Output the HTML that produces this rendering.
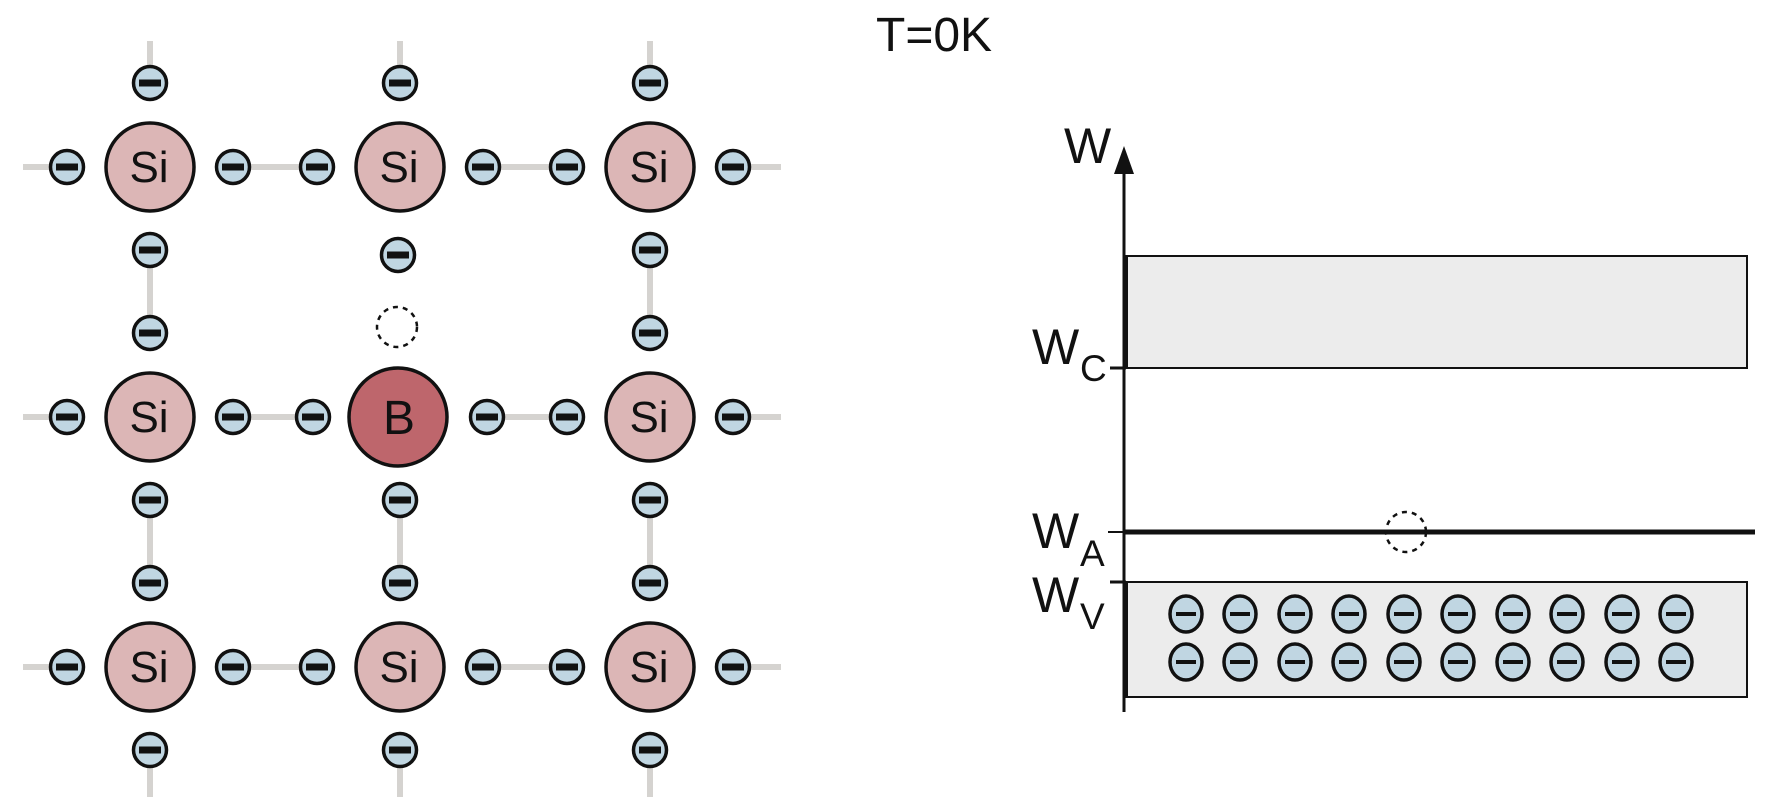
<!DOCTYPE html>
<html><head><meta charset="utf-8"><style>
html,body{margin:0;padding:0;background:#fff;}
svg{display:block;}
text{font-family:"Liberation Sans",sans-serif;fill:#111;}
</style></head><body>
<svg width="1792" height="808" viewBox="0 0 1792 808" xmlns="http://www.w3.org/2000/svg">
<defs>
<g id="e"><circle r="16.5" fill="#c0d6e2" stroke="#111" stroke-width="3.5"/><rect x="-11" y="-3.5" width="22" height="7" fill="#111"/></g>
<g id="ve"><ellipse rx="16" ry="18" fill="#c0d6e2" stroke="#111" stroke-width="3.5"/><rect x="-10" y="-2" width="20" height="4" fill="#111"/></g>
</defs>
<g stroke="#d5d3d0" stroke-width="6">
<line x1="23" y1="167" x2="67" y2="167"/><line x1="233" y1="167" x2="317" y2="167"/><line x1="483" y1="167" x2="567" y2="167"/><line x1="733" y1="167" x2="781" y2="167"/>
<line x1="23" y1="417" x2="67" y2="417"/><line x1="233" y1="417" x2="317" y2="417"/><line x1="483" y1="417" x2="567" y2="417"/><line x1="733" y1="417" x2="781" y2="417"/>
<line x1="23" y1="667" x2="67" y2="667"/><line x1="233" y1="667" x2="317" y2="667"/><line x1="483" y1="667" x2="567" y2="667"/><line x1="733" y1="667" x2="781" y2="667"/>
<line x1="150" y1="41" x2="150" y2="83"/><line x1="400" y1="41" x2="400" y2="83"/><line x1="650" y1="41" x2="650" y2="83"/>
<line x1="150" y1="250" x2="150" y2="333"/><line x1="650" y1="250" x2="650" y2="333"/>
<line x1="150" y1="500" x2="150" y2="583"/><line x1="400" y1="500" x2="400" y2="583"/><line x1="650" y1="500" x2="650" y2="583"/>
<line x1="150" y1="750" x2="150" y2="797"/><line x1="400" y1="750" x2="400" y2="797"/><line x1="650" y1="750" x2="650" y2="797"/>
</g>
<g stroke="#111" stroke-width="3.5">
<circle cx="150" cy="167" r="44" fill="#dcb6b6"/><circle cx="400" cy="167" r="44" fill="#dcb6b6"/><circle cx="650" cy="167" r="44" fill="#dcb6b6"/>
<circle cx="150" cy="417" r="44" fill="#dcb6b6"/><circle cx="398" cy="417" r="49" fill="#be666c"/><circle cx="650" cy="417" r="44" fill="#dcb6b6"/>
<circle cx="150" cy="667" r="44" fill="#dcb6b6"/><circle cx="400" cy="667" r="44" fill="#dcb6b6"/><circle cx="650" cy="667" r="44" fill="#dcb6b6"/>
</g>
<g font-size="44" text-anchor="middle">
<text x="149" y="182">Si</text><text x="399" y="182">Si</text><text x="649" y="182">Si</text>
<text x="149" y="432">Si</text><text x="399" y="434" font-size="48">B</text><text x="649" y="432">Si</text>
<text x="149" y="682">Si</text><text x="399" y="682">Si</text><text x="649" y="682">Si</text>
</g>
<g>
<use href="#e" x="150" y="83"/><use href="#e" x="400" y="83"/><use href="#e" x="650" y="83"/>
<use href="#e" x="67" y="167"/><use href="#e" x="233" y="167"/><use href="#e" x="317" y="167"/><use href="#e" x="483" y="167"/><use href="#e" x="567" y="167"/><use href="#e" x="733" y="167"/>
<use href="#e" x="150" y="250"/><use href="#e" x="398" y="255"/><use href="#e" x="650" y="250"/>
<use href="#e" x="150" y="333"/><use href="#e" x="650" y="333"/>
<use href="#e" x="67" y="417"/><use href="#e" x="233" y="417"/><use href="#e" x="313" y="417"/><use href="#e" x="487" y="417"/><use href="#e" x="567" y="417"/><use href="#e" x="733" y="417"/>
<use href="#e" x="150" y="500"/><use href="#e" x="400" y="500"/><use href="#e" x="650" y="500"/>
<use href="#e" x="150" y="583"/><use href="#e" x="400" y="583"/><use href="#e" x="650" y="583"/>
<use href="#e" x="67" y="667"/><use href="#e" x="233" y="667"/><use href="#e" x="317" y="667"/><use href="#e" x="483" y="667"/><use href="#e" x="567" y="667"/><use href="#e" x="733" y="667"/>
<use href="#e" x="150" y="750"/><use href="#e" x="400" y="750"/><use href="#e" x="650" y="750"/>
</g>
<circle cx="397" cy="327" r="20" fill="none" stroke="#111" stroke-width="2.5" stroke-dasharray="5,5"/>
<text x="876" y="51" font-size="48">T=0K</text>
<rect x="1126" y="256" width="621" height="112" fill="#ececec" stroke="#111" stroke-width="2"/>
<rect x="1126" y="582" width="621" height="115" fill="#ececec" stroke="#111" stroke-width="2"/>
<line x1="1124" y1="170" x2="1124" y2="712" stroke="#111" stroke-width="3"/>
<polygon points="1124,146 1114,174 1134,174" fill="#111"/>
<line x1="1126" y1="256" x2="1126" y2="368" stroke="#111" stroke-width="4"/>
<line x1="1126" y1="582" x2="1126" y2="697" stroke="#111" stroke-width="4"/>
<line x1="1110" y1="368" x2="1126" y2="368" stroke="#111" stroke-width="3"/>
<line x1="1108" y1="532" x2="1124" y2="532" stroke="#111" stroke-width="2"/>
<line x1="1124" y1="532" x2="1755" y2="532" stroke="#111" stroke-width="5"/>
<line x1="1110" y1="582" x2="1126" y2="582" stroke="#111" stroke-width="3"/>
<circle cx="1406" cy="532" r="20" fill="none" stroke="#111" stroke-width="2.5" stroke-dasharray="5,5"/>
<text x="1064" y="163" font-size="50">W</text>
<text x="1032" y="364" font-size="50">W</text><text x="1080" y="381" font-size="37">C</text>
<text x="1032" y="548" font-size="50">W</text><text x="1080" y="566" font-size="37">A</text>
<text x="1032" y="612" font-size="50">W</text><text x="1080" y="629" font-size="37">V</text>
<g>
<use href="#ve" x="1186" y="614"/><use href="#ve" x="1240" y="614"/><use href="#ve" x="1295" y="614"/><use href="#ve" x="1349" y="614"/><use href="#ve" x="1404" y="614"/><use href="#ve" x="1458" y="614"/><use href="#ve" x="1513" y="614"/><use href="#ve" x="1567" y="614"/><use href="#ve" x="1622" y="614"/><use href="#ve" x="1676" y="614"/>
<use href="#ve" x="1186" y="662"/><use href="#ve" x="1240" y="662"/><use href="#ve" x="1295" y="662"/><use href="#ve" x="1349" y="662"/><use href="#ve" x="1404" y="662"/><use href="#ve" x="1458" y="662"/><use href="#ve" x="1513" y="662"/><use href="#ve" x="1567" y="662"/><use href="#ve" x="1622" y="662"/><use href="#ve" x="1676" y="662"/>
</g>
</svg>
</body></html>
